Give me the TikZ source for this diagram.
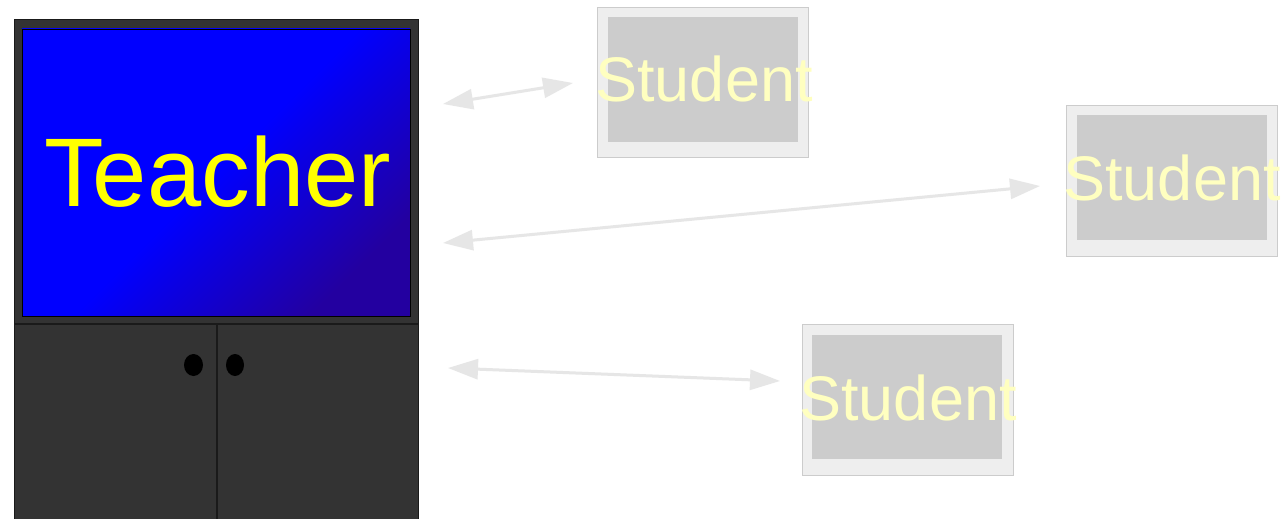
\documentclass[tikz,border=0pt]{standalone}
\usepackage{fontspec}
\setmainfont{Liberation Sans}
\usetikzlibrary{arrows.meta,shadings}
\definecolor{cab}{HTML}{333333}
\definecolor{cabline}{HTML}{1A1A1A}
\definecolor{scrdark}{RGB}{35,0,160}
\definecolor{stouter}{HTML}{EEEEEE}
\definecolor{stinner}{HTML}{CCCCCC}
\definecolor{stborder}{HTML}{CCCCCC}
\definecolor{sttext}{RGB}{255,255,192}
\definecolor{arr}{HTML}{E6E6E6}
\begin{document}
\begin{tikzpicture}[x=1pt,y=-1pt,
  stframe/.style={draw=stborder,fill=stouter,line width=0.8pt},
  stscreen/.style={fill=stinner,draw=none},
  sttxt/.style={text=sttext,font=\fontsize{63}{63}\selectfont,inner sep=0pt,anchor=base},
  link/.style={draw=arr,line width=3pt,{Triangle[length=30pt,width=20pt]}-{Triangle[length=30pt,width=20pt]}}
]
\useasboundingbox (0,0) rectangle (1283,519);
\fill[white] (0,0) rectangle (1283,519);
% cabinet
\draw[fill=cab,draw=cabline,line width=1pt] (14,20) rectangle (418,525);
\draw[cabline,line width=1.2pt] (14,324) -- (418,324);
\draw[cabline,line width=1.2pt] (217,324) -- (217,525);
\fill[black] (193.5,365) ellipse [x radius=9.5,y radius=11];
\fill[black] (235,365) ellipse [x radius=9,y radius=11];
% screen
\shade[top color=blue,bottom color=scrdark,middle color=blue,shading angle=45] (22,29) rectangle (410,316);
\draw[black,line width=0.8pt] (22,29) rectangle (410,316);
\node[text={rgb,255:red,255;green,255;blue,0},font=\fontsize{97.5}{97.5}\selectfont,inner sep=0pt,anchor=base] (teacher) at (217.5,206) {Teacher};
% students
\draw[stframe] (597,7) rectangle (808,157);
\fill[stscreen] (608,17) rectangle (798,142);
\node[sttxt] (s1) at (704,102) {Student};
\draw[stframe] (1066,105) rectangle (1277,256);
\fill[stscreen] (1077,115) rectangle (1267,240);
\node[sttxt] (s2) at (1172,200) {Student};
\draw[stframe] (802,324) rectangle (1013,475);
\fill[stscreen] (812,335) rectangle (1002,459);
\node[sttxt] (s3) at (908,420) {Student};
% connector ends
\coordinate (a1) at (443,104);
\coordinate (b1) at (573,83);
\coordinate (a2) at (443,243);
\coordinate (b2) at (1040,186);
\coordinate (a3) at (448,368);
\coordinate (b3) at (780,381);
\draw[link] (a1) -- (b1);
\draw[link] (a2) -- (b2);
\draw[link] (a3) -- (b3);
\end{tikzpicture}
\end{document}
